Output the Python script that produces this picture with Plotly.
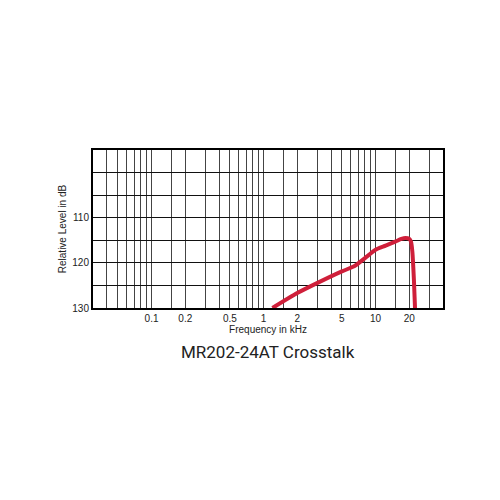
import plotly.graph_objects as go
import math

# Crosstalk curve (frequency in kHz, relative level in dB)
freq_khz = [1.2, 2, 3, 5, 6.5, 8, 10, 12.3, 15, 17, 18.5, 20, 20.7, 21.3, 22, 22.5]
level_db = [130, 126.7, 124.5, 121.9, 120.7, 119.0, 117.1, 116.2, 115.3, 114.7, 114.5, 114.7, 115.3, 117.5, 123.8, 130]

# Axis grid / tick definitions
x_grid = [0.04, 0.05, 0.06, 0.07, 0.08, 0.09, 0.1, 0.15, 0.2, 0.3, 0.4, 0.5, 0.6, 0.7, 0.8, 0.9,
          1, 1.5, 2, 3, 4, 5, 6, 7, 8, 9, 10, 15, 20, 30]
x_labels = {0.1: "0.1", 0.2: "0.2", 0.5: "0.5", 1: "1", 2: "2", 5: "5", 10: "10", 20: "20"}
y_grid = [100, 105, 110, 115, 120, 125, 130]
y_labels = {110: "110", 120: "120", 130: "130"}
x_range = [0.03, 40]
y_range = [130, 95]

fig = go.Figure()
fig.add_trace(go.Scatter(
    x=freq_khz, y=level_db, mode="lines",
    line=dict(color="#cf1f3a", width=4, shape="spline", smoothing=0.6),
    hoverinfo="skip", showlegend=False,
))

font = "Liberation Sans, Arial, sans-serif"
fig.update_layout(
    width=500, height=500,
    margin=dict(l=85, r=65, t=142, b=200),
    paper_bgcolor="white", plot_bgcolor="white",
    font=dict(family=font, size=10, color="#222"),
    xaxis=dict(
        type="log", range=[math.log10(x_range[0]), math.log10(x_range[1])],
        tickmode="array", tickvals=x_grid,
        ticktext=[x_labels.get(v, "") for v in x_grid],
        showgrid=True, gridcolor="#444", gridwidth=1,
        showline=True, linecolor="black", linewidth=2, mirror=True,
        ticks="", zeroline=False,
        tickfont=dict(size=10, color="#222"),
        title=dict(text="Frequency in kHz", font=dict(size=10, color="#222"), standoff=2),
    ),
    yaxis=dict(
        range=y_range,
        tickmode="array", tickvals=y_grid,
        ticktext=[y_labels.get(v, "") for v in y_grid],
        showgrid=True, gridcolor="#111", gridwidth=1,
        showline=True, linecolor="black", linewidth=2, mirror=True,
        ticks="", zeroline=False,
        tickfont=dict(size=10, color="#222"),
        title=dict(text="Relative Level in dB", font=dict(size=10, color="#222"), standoff=4),
    ),
    annotations=[dict(
        text="MR202-24AT Crosstalk", xref="paper", yref="paper",
        x=0.5, y=-0.278, xanchor="center", yanchor="middle", showarrow=False,
        font=dict(family="Roboto, Liberation Sans, sans-serif", size=17, color="#222"),
    )],
)

fig.write_html("out.html")
